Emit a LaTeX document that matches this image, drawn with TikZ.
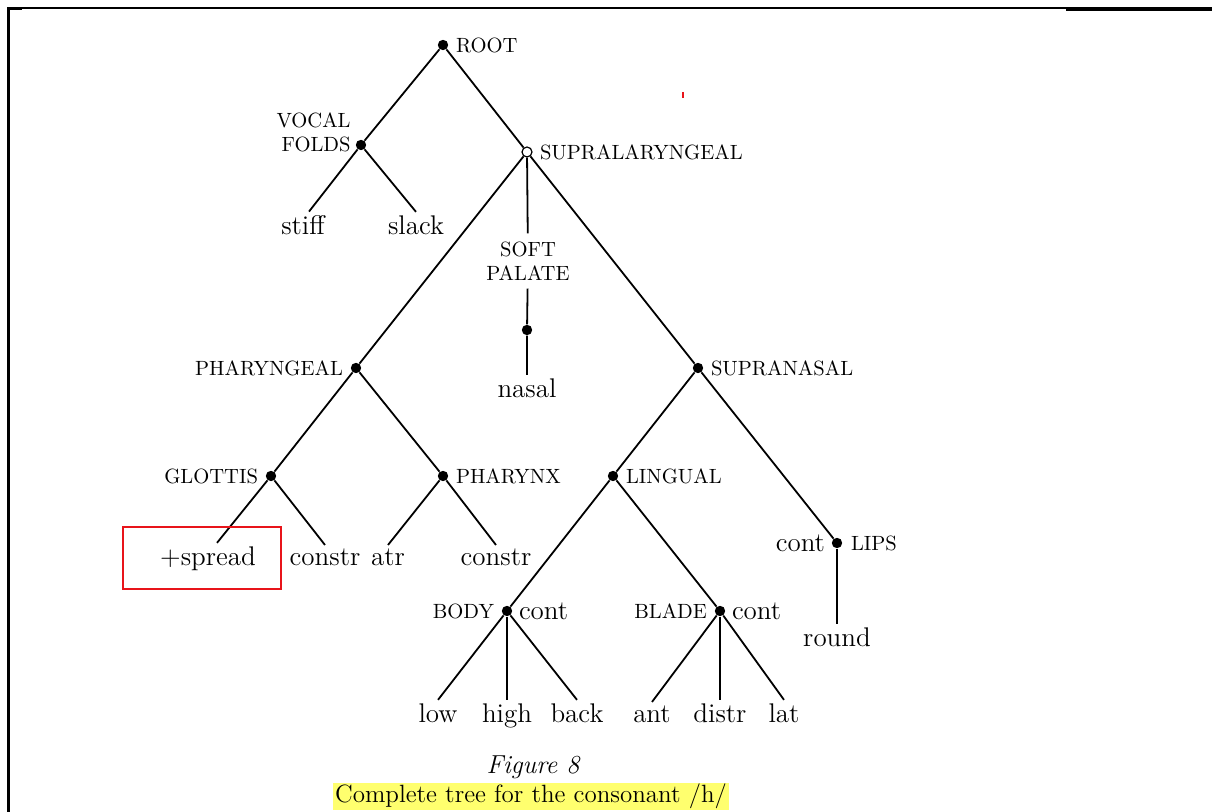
\documentclass[tikz,border=0pt]{standalone}
\usepackage{fontspec}
\usetikzlibrary{positioning}
\definecolor{Mark}{HTML}{E8141A}
\definecolor{HiYellow}{HTML}{FFFF6E}

\begin{document}
\begin{tikzpicture}[x=0.5pt,y=-0.5pt,
  branch/.style={line width=0.9pt},
  dot/.style={circle,fill,inner sep=0pt,minimum size=5.2pt},
  opendot/.style={circle,draw,fill=white,line width=0.6pt,inner sep=0pt,minimum size=5pt},
  tier/.style={font=\fontsize{10.3}{12}\selectfont,inner sep=1pt},
  feat/.style={font=\fontsize{13.5}{15}\selectfont,inner sep=2pt}]
  \useasboundingbox (0,0) rectangle (1212,812);
  % page frame
  \draw[line width=0.6pt] (8,8) -- (1212,8);
  \draw[line width=1.5pt] (8,812) -- (8,9) -- (22,9);
  \draw[line width=1.5pt] (1066,9.5) -- (1212,9.5);
  \draw[Mark,line width=0.6pt] (683,92) -- (683,98);
  % class nodes
  \node[dot] (root) at (443,45) {};
  \node[dot] (vf) at (361,145) {};
  \node[opendot] (sl) at (527,152) {};
  \node[dot] (pdot) at (527,330) {};
  \node[dot] (phg) at (356,368) {};
  \node[dot] (sn) at (698,368) {};
  \node[dot] (gl) at (271,476) {};
  \node[dot] (phx) at (443,476) {};
  \node[dot] (lin) at (613,476) {};
  \node[dot] (lips) at (837,543) {};
  \node[dot] (body) at (507,611) {};
  \node[dot] (blade) at (720,611) {};
  % tier labels
  \node[tier,right=2.5pt of root] (rootlab) {ROOT};
  \node[tier,align=right,anchor=east] (vflab) at (353,132) {VOCAL\\FOLDS};
  \node[tier,right=2.5pt of sl] (sllab) {SUPRALARYNGEAL};
  \node[tier,align=center,inner ysep=4pt] (sp) at (528,261) {SOFT\\PALATE};
  \node[tier,left=2.5pt of phg] (phglab) {PHARYNGEAL};
  \node[tier,right=2.5pt of sn] (snlab) {SUPRANASAL};
  \node[tier,left=2.5pt of gl] (gllab) {GLOTTIS};
  \node[tier,right=2.5pt of phx] (phxlab) {PHARYNX};
  \node[tier,right=2.5pt of lin] (linlab) {LINGUAL};
  \node[tier,right=3pt of lips] (lipslab) {LIPS};
  \node[feat,left=1pt of lips] (lipscont) {cont};
  \node[tier,left=2.5pt of body] (bodylab) {BODY};
  \node[feat,right=1pt of body] (bodycont) {cont};
  \node[tier,left=2.5pt of blade] (bladelab) {BLADE};
  \node[feat,right=1pt of blade] (bladecont) {cont};
  % terminal features
  \node[feat,anchor=base] (stiff) at (303,235) {stiff};
  \node[feat,anchor=base] (slack) at (416,235) {slack};
  \node[feat,anchor=base] (nasal) at (527,398) {nasal};
  \node[feat,anchor=base] (spread) at (208,566) {+spread};
  \node[feat,anchor=base] (gconstr) at (325,566) {constr};
  \node[feat,anchor=base] (atr) at (388,566) {atr};
  \node[feat,anchor=base] (pconstr) at (496,566) {constr};
  \node[feat,anchor=base] (round) at (837,647) {round};
  \node[feat,anchor=base] (low) at (438,723) {low};
  \node[feat,anchor=base] (high) at (507,723) {high};
  \node[feat,anchor=base] (back) at (577,723) {back};
  \node[feat,anchor=base] (ant) at (652,723) {ant};
  \node[feat,anchor=base] (distr) at (720,723) {distr};
  \node[feat,anchor=base] (lat) at (784,723) {lat};
  % branches
  \draw[branch] (root) -- (vf);
  \draw[branch] (root) -- (sl);
  \draw[branch] (vf) -- ([xshift=3pt]stiff.north);
  \draw[branch] (vf) -- (slack.north);
  \draw[branch] (sl) -- (phg);
  \draw[branch] (sl) -- (sp);
  \draw[branch] (sp) -- (pdot) -- (nasal);
  \draw[branch] (sl) -- (sn);
  \draw[branch] (phg) -- (gl);
  \draw[branch] (phg) -- (phx);
  \draw[branch] (gl) -- ([xshift=4.5pt]spread.north);
  \draw[branch] (gl) -- (gconstr.north);
  \draw[branch] (phx) -- (atr.north);
  \draw[branch] (phx) -- (pconstr.north);
  \draw[branch] (sn) -- (lin);
  \draw[branch] (sn) -- (lips);
  \draw[branch] (lips) -- (round);
  \draw[branch] (lin) -- (body);
  \draw[branch] (lin) -- (blade);
  \draw[branch] (body) -- (low.north);
  \draw[branch] (body) -- (high);
  \draw[branch] (body) -- (back.north);
  \draw[branch] (blade) -- (ant.north);
  \draw[branch] (blade) -- (distr);
  \draw[branch] (blade) -- (lat.north);
  % highlight box
  \draw[Mark,line width=1pt] (123,527) rectangle (281,589);
  % caption
  \node[font=\fontsize{13}{15}\selectfont\itshape] (fig) at (533,767) {Figure 8};
  \node[fill=HiYellow,font=\fontsize{12.5}{14}\selectfont,inner xsep=1pt,inner ysep=0.75pt,
    text height=9pt,text depth=3pt] (cap) at (531,796.5) {Complete tree for the consonant /h/};
\end{tikzpicture}
\end{document}
